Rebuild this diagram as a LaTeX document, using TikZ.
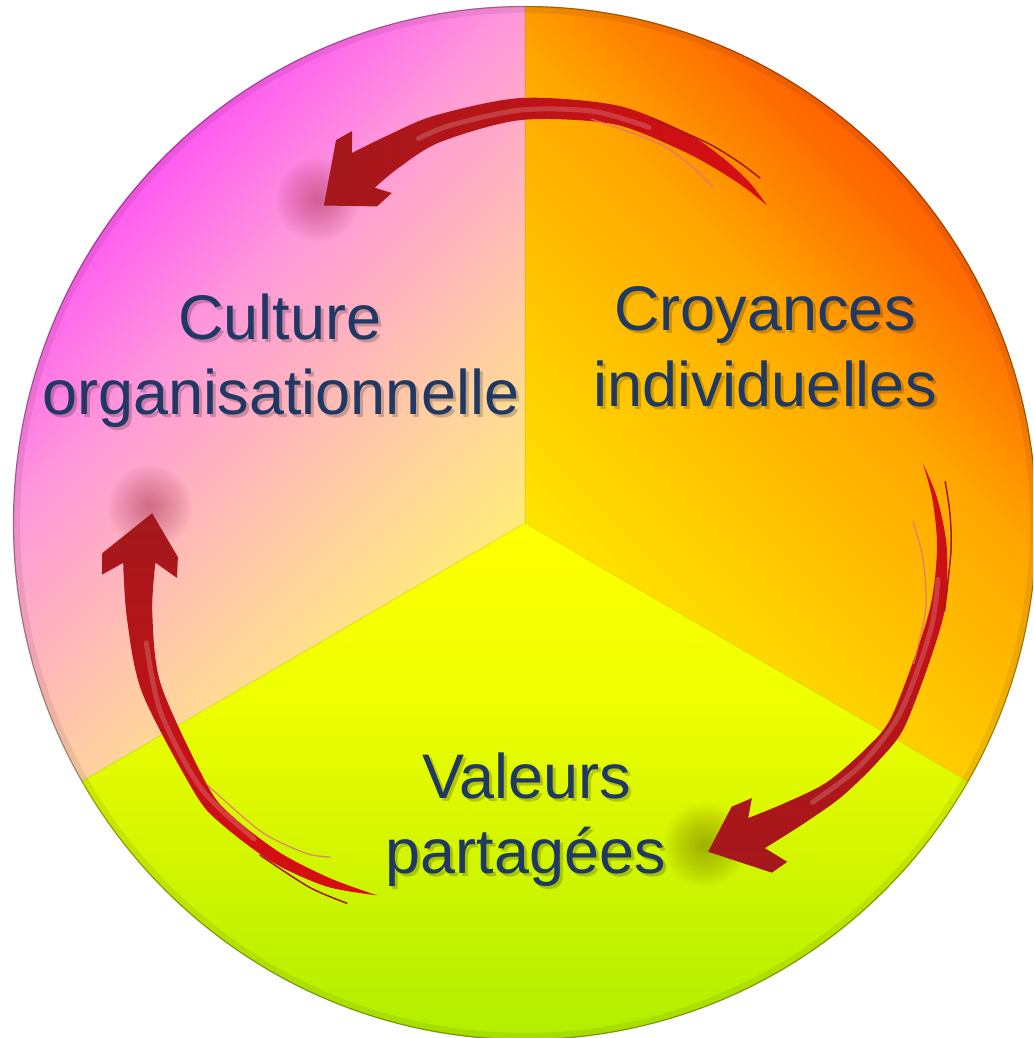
\documentclass[tikz,border=0pt]{standalone}
\usepackage{fontspec}
\setmainfont{Liberation Sans}
\definecolor{txt}{HTML}{1F3864}
\definecolor{ardark}{HTML}{A3181C}
\definecolor{arbright}{HTML}{D80E12}
\definecolor{m1}{HTML}{FF5CF0}
\definecolor{m2}{HTML}{FF98DA}
\definecolor{m3}{HTML}{FFD0A0}
\definecolor{m4}{HTML}{FFEC7A}
\definecolor{o0}{HTML}{FFE400}
\definecolor{o1}{HTML}{FFC800}
\definecolor{o2}{HTML}{FFA600}
\definecolor{o3}{HTML}{FF6C00}
\definecolor{o4}{HTML}{FF6000}
\definecolor{g0}{HTML}{B2EE00}
\definecolor{g1}{HTML}{B8F000}
\definecolor{g2}{HTML}{DDF800}
\definecolor{g3}{HTML}{EEFF00}
\definecolor{g4}{HTML}{FFFF00}
\definecolor{glowred}{HTML}{A02040}
\definecolor{glowolive}{HTML}{706A00}
\definecolor{streakin}{HTML}{E07080}
\pgfdeclarehorizontalshading{tlsh}{100bp}{color(0bp)=(m1); color(28.6bp)=(m1); color(34.7bp)=(m2); color(44.2bp)=(m3); color(50bp)=(m4); color(100bp)=(m4)}
\pgfdeclarehorizontalshading{rsh}{100bp}{color(0bp)=(o0); color(50bp)=(o0); color(56.4bp)=(o1); color(64.1bp)=(o2); color(70bp)=(o3); color(72bp)=(o4); color(100bp)=(o4)}
\pgfdeclareverticalshading{bsh}{100bp}{color(0bp)=(g0); color(28.5bp)=(g0); color(30.1bp)=(g1); color(38.5bp)=(g2); color(42.6bp)=(g3); color(50bp)=(g4); color(100bp)=(g4)}
% text with a soft drop shadow, all in one node
\newcommand\shtxt[1]{\rlap{\kern3pt\raisebox{-3.5pt}{\pgfsetfillopacity{0.2}\color{black}#1}}\pgfsetfillopacity{1}#1}
\begin{document}
\begin{tikzpicture}[x=1pt,y=-1pt,
  lbl/.style={font=\fontsize{63}{75}\selectfont, text=txt, inner sep=0pt, anchor=base},
  hl/.style={draw=white, draw opacity=0.18, line width=5pt, line cap=round},
  strkout/.style={draw=ardark, line width=1.5pt, line cap=round},
  strkin/.style={draw=streakin, draw opacity=0.8, line width=1.3pt, line cap=round},
  arrowtop/.style={left color=ardark, middle color=ardark, right color=arbright},
  arrowright/.style={top color=arbright, middle color=ardark, bottom color=ardark},
  arrowleft/.style={top color=ardark, middle color=ardark, bottom color=arbright},
]
\useasboundingbox (0,0) rectangle (1033,1038);
\clip (0,0) rectangle (1033,1038);
\coordinate (C) at (525,523);
% ---------- disc sectors ----------
\begin{scope}[shift={(525,523)}]
  \fill[g4] (0,0) ellipse [x radius=511, y radius=516];
  \begin{scope}
    \clip (0,0) -- (150:512 and 517) arc[start angle=150, end angle=270, x radius=512, y radius=517] -- cycle;
    \shade[shading=tlsh, shading angle=-45] (-600,-600) rectangle (600,600);
  \end{scope}
  \begin{scope}
    \clip (0,0) -- (270:512 and 517) arc[start angle=270, end angle=390, x radius=512, y radius=517] -- cycle;
    \shade[shading=rsh, shading angle=45] (-600,-600) rectangle (600,600);
  \end{scope}
  \begin{scope}
    \clip (0,0) -- (30:512 and 517) arc[start angle=30, end angle=150, x radius=512, y radius=517] -- cycle;
    \shade[shading=bsh] (-600,-600) rectangle (600,600);
  \end{scope}
  \draw[black, draw opacity=0.06, line width=1.5pt] (270:512 and 517) -- (0,0) -- (150:512 and 517) (0,0) -- (30:512 and 517);
  \draw[black, draw opacity=0.07, line width=6pt] (0,0) ellipse [x radius=508, y radius=513];
  \draw[black, draw opacity=0.35, line width=1.2pt] (0,0) ellipse [x radius=511.5, y radius=516.5];
\end{scope}
% ---------- soft shadows under arrow heads ----------
\foreach \r in {42,40,...,4} {
  \fill[glowred, fill opacity=0.025] (318,200) circle (\r);
  \fill[glowred, fill opacity=0.022] (150,507) circle (\r);
  \fill[glowolive, fill opacity=0.028] (705,845) circle (\r);
}
% ---------- arrows ----------
\begin{scope}[shift={(521,521)}]
  % top arrow: Croyances -> Culture
  \shade[arrowtop] plot[smooth] coordinates {(-52:400) (-56:408.5) (-61:415.5) (-67:422) (-77:426.5) (-90:423) (-102:414.5) (-109:408) (-114.7:405)}
    -- (-113.4:425) -- (-115.9:423.5) -- (-122:372) -- (-114.6:346) -- (-111.5:352.5) -- (-113.7:364)
    -- plot[smooth] coordinates {(-113.7:364) (-109:374) (-102:387.5) (-90:401) (-77:407.5) (-67:404) (-61:402.5) (-56:401.5) (-52:400)} -- cycle;
  \draw[hl] plot[smooth] coordinates {(-72:414) (-80:416) (-90:411) (-100:402) (-105:396)};
  \draw[strkout] plot[smooth] coordinates {(-72:423) (-64:421.5) (-59:420) (-55.1:418)};
  \draw[strkin] plot[smooth] coordinates {(-80:408) (-70:402) (-64:393) (-60.1:385)};
  % right arrow: Croyances -> Valeurs
  \shade[arrowright] plot[smooth] coordinates {(-8.2:406) (-3:417) (4:427) (13:433) (27.5:435) (33.5:431) (40.6:423) (47:414) (53.3:408)}
    -- (52:432.5) -- (54.5:432) -- (60.5:380) -- (53.6:355) -- (50.2:360.7) -- (52.6:374)
    -- plot[smooth] coordinates {(52.6:374) (47:386) (40.6:402) (33.5:413) (27.5:419) (13:418) (4:417) (-3:412) (-8.2:406)} -- cycle;
  \draw[hl] plot[smooth] coordinates {(8:421) (15:424) (27:425) (36:418) (44:405)};
  \draw[strkout] plot[smooth] coordinates {(12:433) (4:431) (-1:429) (-5.3:426)};
  \draw[strkin] plot[smooth] coordinates {(20:418) (12:414) (5:403) (0.1:392)};
  % left arrow: Valeurs -> Culture
  \shade[arrowleft] plot[smooth] coordinates {(111:401) (118:414) (126:422) (134.5:426) (140:425) (155.5:416) (166:406) (174:400)}
    -- (172.7:422.5) -- (175.6:420) -- (181.2:369) -- (174:345) -- (170.6:348.7) -- (173.5:368)
    -- plot[smooth] coordinates {(173.5:368) (166:380) (155.5:395.6) (140:410) (134.5:413) (126:410) (118:405) (111:401)} -- cycle;
  \draw[hl] plot[smooth] coordinates {(130:415) (140:417) (152:408) (162:394)};
  \draw[strkin] plot[smooth] coordinates {(140:410) (130:405) (123:396) (119.6:386.5)};
  \draw[strkout] plot[smooth] coordinates {(128:424) (120:423) (114.5:420)};
\end{scope}
% ---------- labels ----------
\node[lbl] (cul1) at (280,339) {\shtxt{Culture}};
\node[lbl] (cul2) at (281,414) {\shtxt{organisationnelle}};
\node[lbl] (cro1) at (765,330) {\shtxt{Croyances}};
\node[lbl] (cro2) at (765,406) {\shtxt{individuelles}};
\node[lbl] (val1) at (527,798) {\shtxt{Valeurs}};
\node[lbl] (val2) at (526,873) {\shtxt{partagées}};
\end{tikzpicture}
\end{document}
